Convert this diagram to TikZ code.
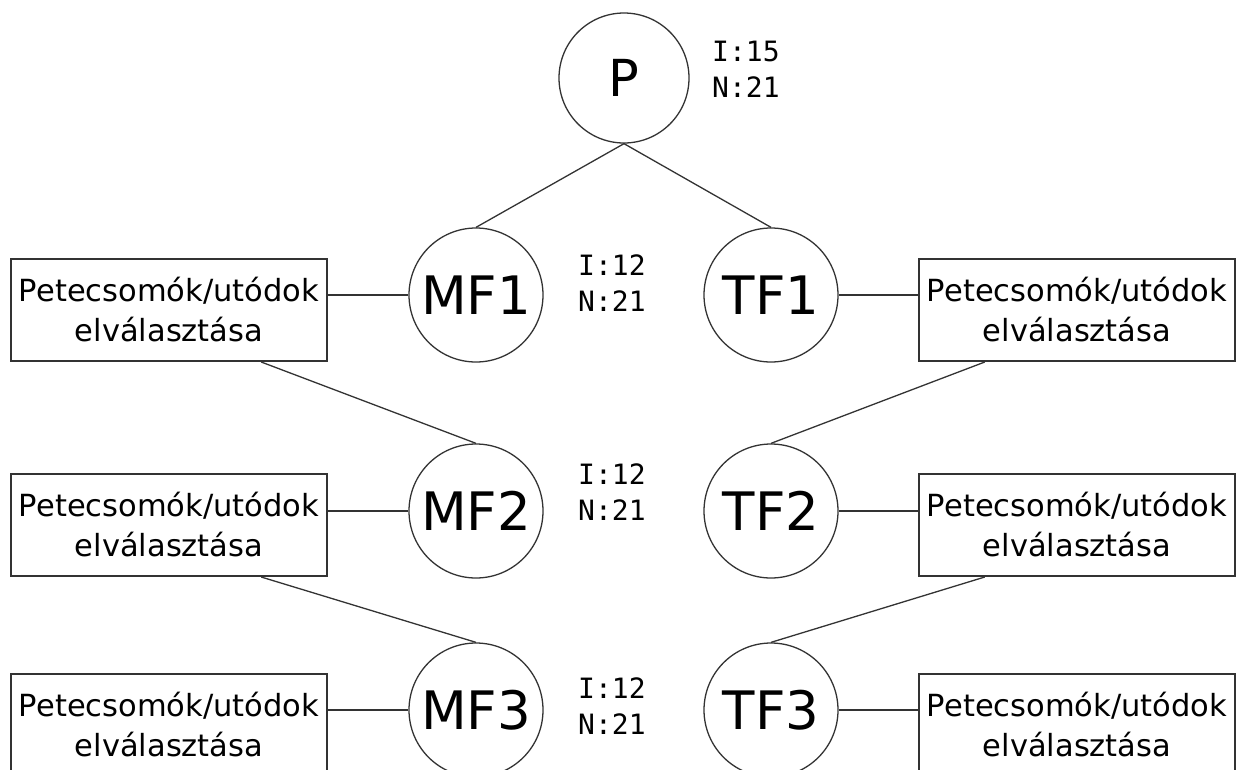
\documentclass[tikz,border=0pt]{standalone}
\usepackage{fontspec}
\setmainfont{DejaVu Sans}
\newfontfamily\monof{DejaVu Sans Mono}
\usetikzlibrary{calc}
\definecolor{linegray}{HTML}{333333}
\begin{document}
\begin{tikzpicture}[x=1pt,y=-1pt,
  circ/.style={circle,draw=linegray,line width=1.3pt,minimum size=134pt,inner sep=0pt,font=\fontsize{53}{60}\selectfont},
  pcirc/.style={circ,minimum size=130pt,font=\fontsize{51}{60}\selectfont},
  tbox/.style={draw=linegray,line width=2pt,minimum width=316pt,minimum height=102pt,inner sep=0pt,align=center,font=\fontsize{30.5}{40}\selectfont},
  lab/.style={anchor=west,align=left,inner sep=0pt,font=\monof\fontsize{28}{36}\selectfont},
  conn/.style={draw=linegray,line width=1.3pt}]
\useasboundingbox (0,0) rectangle (1239,769);
\clip (0,0) rectangle (1239,769);
% circles
\node[pcirc] (P) at (624,78) {P};
\node[circ] (MF1) at (476,295) {MF1};
\node[circ] (TF1) at (771,295) {TF1};
\node[circ] (MF2) at (476,511) {MF2};
\node[circ] (TF2) at (771,511) {TF2};
\node[circ] (MF3) at (476,710) {MF3};
\node[circ] (TF3) at (771,710) {TF3};
% labels
\node[lab] (LP) at (712,69) {I:15\\N:21};
\node[lab] (L1) at (578,283) {I:12\\N:21};
\node[lab] (L2) at (578,492) {I:12\\N:21};
\node[lab] (L3) at (578,706) {I:12\\N:21};
% boxes
\node[tbox] (BL1) at (169,310) {Petecsomók/utódok\\elválasztása};
\node[tbox] (BR1) at (1077,310) {Petecsomók/utódok\\elválasztása};
\node[tbox] (BL2) at (169,525) {Petecsomók/utódok\\elválasztása};
\node[tbox] (BR2) at (1077,525) {Petecsomók/utódok\\elválasztása};
\node[tbox] (BL3) at (169,725) {Petecsomók/utódok\\elválasztása};
\node[tbox] (BR3) at (1077,725) {Petecsomók/utódok\\elválasztása};
% connectors
\draw[conn] (P.south) -- (MF1.north);
\draw[conn] (P.south) -- (TF1.north);
\foreach \i in {1,2,3}{
  \draw[conn] (BL\i.east |- MF\i.west) -- (MF\i.west);
  \draw[conn] (TF\i.east) -- (BR\i.west |- TF\i.east);
}
\draw[conn] ($(BL1.south west)!0.79!(BL1.south east)$) -- (MF2.north);
\draw[conn] ($(BR1.south west)!0.21!(BR1.south east)$) -- (TF2.north);
\draw[conn] ($(BL2.south west)!0.79!(BL2.south east)$) -- (MF3.north);
\draw[conn] ($(BR2.south west)!0.21!(BR2.south east)$) -- (TF3.north);
\end{tikzpicture}
\end{document}
